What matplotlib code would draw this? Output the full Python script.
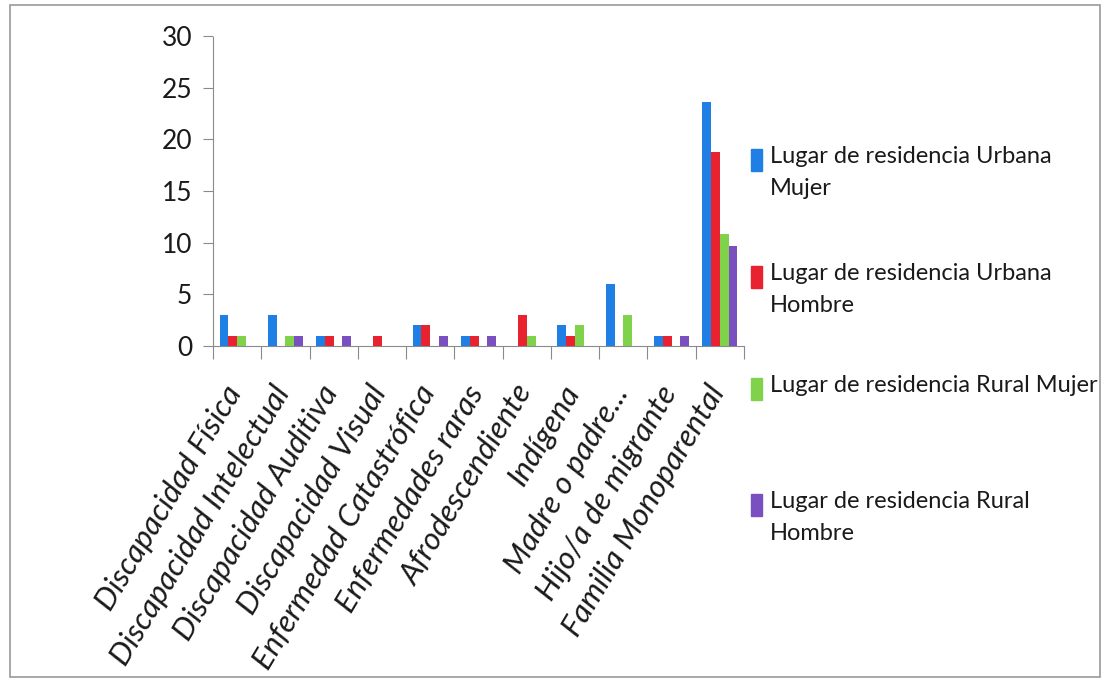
import matplotlib.pyplot as plt
import matplotlib.transforms as mtransforms
from matplotlib.patches import Rectangle
import numpy as np

plt.rcParams["font.family"] = ["Lato", "DejaVu Sans"]

categorias = ["Discapacidad Física", "Discapacidad Intelectual", "Discapacidad Auditiva",
              "Discapacidad Visual", "Enfermedad Catastrófica", "Enfermedades raras",
              "Afrodescendiente", "Indígena", "Madre o padre...", "Hijo/a de migrante",
              "Familia Monoparental"]
urbana_mujer = [3, 3, 1, 0, 2, 1, 0, 2, 6, 1, 23.6]
urbana_hombre = [1, 0, 1, 1, 2, 1, 3, 1, 0, 1, 18.8]
rural_mujer = [1, 1, 0, 0, 0, 0, 1, 2, 3, 0, 10.8]
rural_hombre = [0, 1, 1, 0, 1, 1, 0, 0, 0, 1, 9.7]
series_labels = ["Lugar de residencia Urbana\nMujer", "Lugar de residencia Urbana\nHombre",
                 "Lugar de residencia Rural Mujer", "Lugar de residencia Rural\nHombre"]

COLORS = ["#1f7fe4", "#e8222f", "#80d24a", "#7a50c0"]
AXIS = "#8a8a8a"
TEXT = "#1a1a1a"

fig = plt.figure(figsize=(11.09, 6.83), dpi=100)
ax = fig.add_axes([213 / 1109, 1 - 346 / 683, 531 / 1109, 310 / 683])

x = np.arange(len(categorias))
w = 1 / 5.5
for i, vals in enumerate([urbana_mujer, urbana_hombre, rural_mujer, rural_hombre]):
    ax.bar(x + (i - 1.5) * w, vals, width=w, color=COLORS[i], zorder=3)

ax.set_xlim(-0.5, len(categorias) - 0.5)
ax.set_ylim(0, 30)
ax.set_yticks(range(0, 31, 5))
ax.tick_params(axis="y", labelsize=19, colors=TEXT, length=7, color=AXIS, pad=8)

# marcas entre categorias, etiquetas centradas y giradas (imagen escaneada: texto estirado)
ax.set_xticks(np.arange(-0.5, len(categorias)), minor=False)
ax.set_xticklabels([])
ax.tick_params(axis="x", which="major", length=9, color=AXIS, direction="out")
ax.set_xticks(x, minor=True)
ax.set_xticklabels(categorias, minor=True, rotation=59, ha="right", va="center",
                   rotation_mode="anchor", fontsize=22.5, style="italic", color=TEXT)
ax.tick_params(axis="x", which="minor", length=0, pad=30)
offset = mtransforms.ScaledTranslation(-0.02, 0, fig.dpi_scale_trans)
for lab in ax.get_xticklabels(minor=True):
    lab.set_transform(lab.get_transform() + offset)

for s in ("top", "right"):
    ax.spines[s].set_visible(False)
for s in ("left", "bottom"):
    ax.spines[s].set_color(AXIS)
    ax.spines[s].set_linestyle((0, (2, 1)))

# leyenda a mano, cuadro alineado con la primera linea
ys = [160, 277, 389, 505]
for c, lab, yy in zip(COLORS, series_labels, ys):
    fig.patches.append(Rectangle((751 / 1109, 1 - (yy + 11) / 683), 11 / 1109, 22 / 683,
                                 transform=fig.transFigure, color=c))
    fig.text(770 / 1109, 1 - (yy - 14) / 683, lab, ha="left", va="top",
             fontsize=17, color=TEXT, linespacing=1.65)

# marco de la figura
fig.patches.append(Rectangle((10 / 1109, 6 / 683), 1090 / 1109, 672 / 683,
                             transform=fig.transFigure, fill=False,
                             edgecolor="#999999", lw=1.2))

fig.savefig("out.png", dpi=100)
